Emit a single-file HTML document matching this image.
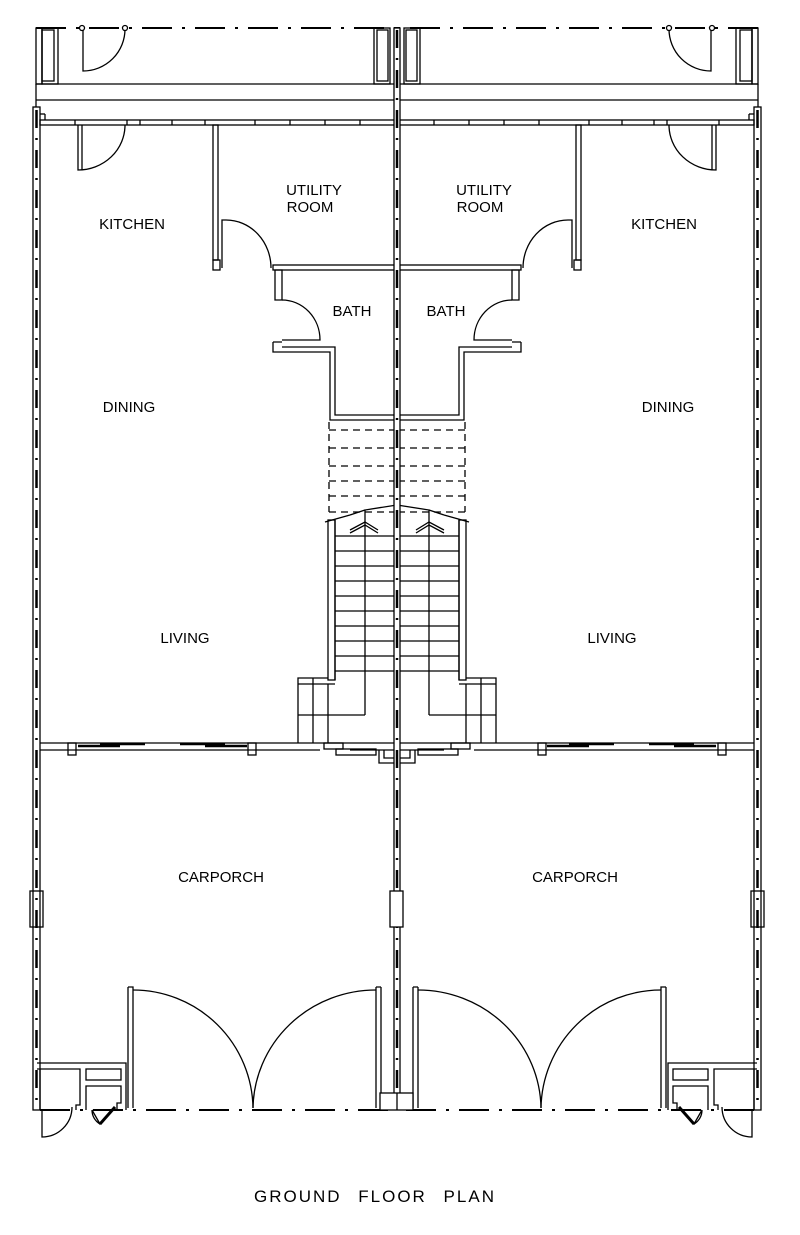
<!DOCTYPE html>
<html><head><meta charset="utf-8"><style>
html,body{margin:0;padding:0;background:#fff;}
svg{display:block}
text{font-family:"Liberation Sans",sans-serif;fill:#000;}
</style></head><body>
<svg width="800" height="1235" viewBox="0 0 800 1235" xmlns="http://www.w3.org/2000/svg">
<defs>
<g id="half" fill="none" stroke="#000" stroke-width="1.3">
  <line x1="36" y1="28" x2="397" y2="28" stroke-width="2" stroke-dasharray="30,10,3,10"/>
  <rect x="36" y="28" width="6" height="56"/>
  <rect x="42" y="28" width="16" height="56"/>
  <rect x="42" y="30" width="12" height="51"/>
  <rect x="374" y="28" width="16" height="56"/>
  <rect x="377" y="30" width="11" height="51"/>
  <line x1="36" y1="84" x2="397" y2="84"/>
  <line x1="36" y1="84" x2="36" y2="107"/>
  <path d="M83 29 V71 A42 42 0 0 0 125 29"/>
  <circle cx="82" cy="28" r="2.5" fill="#fff"/>
  <circle cx="125" cy="28" r="2.5" fill="#fff"/>
  <line x1="36" y1="100" x2="397" y2="100"/>
  <rect x="33" y="107" width="7" height="1003"/>
  <line x1="36.5" y1="110" x2="36.5" y2="1105" stroke-width="2.5" stroke-dasharray="18,10,2,10"/>
  <rect x="40" y="120" width="357" height="5"/>
  <line x1="40" y1="114" x2="45" y2="114"/><line x1="45" y1="114" x2="45" y2="120"/>
  <line x1="75" y1="120" x2="75" y2="125"/><line x1="127" y1="120" x2="127" y2="125"/>
  <line x1="140" y1="120" x2="140" y2="125"/><line x1="172" y1="120" x2="172" y2="125"/>
  <line x1="205" y1="120" x2="205" y2="125"/><line x1="255" y1="120" x2="255" y2="125"/>
  <line x1="290" y1="120" x2="290" y2="125"/><line x1="325" y1="120" x2="325" y2="125"/><line x1="360" y1="120" x2="360" y2="125"/>
  <path d="M78 125 V170 A47 45 0 0 0 125 125"/>
  <line x1="82" y1="125" x2="82" y2="170"/>
  <rect x="213" y="125" width="5" height="135"/>
  <rect x="213" y="260" width="7" height="10"/>
  <path d="M222 268 V220 H226 A45 48 0 0 1 271 268"/>
  <rect x="273" y="265" width="124" height="5"/>
  <path d="M275 270 H282 V300 H275 Z"/>
  <path d="M282 300 A38 40 0 0 1 320 340 H282"/>
  <path d="M273 342 H282 V342 M273 342 V352 H330 V420 H397 M282 347 H335 V415 H397"/>
  <g stroke-dasharray="7,5">
    <line x1="329" y1="430" x2="397" y2="430"/>
    <line x1="329" y1="448" x2="397" y2="448"/>
    <line x1="329" y1="466" x2="397" y2="466"/>
    <line x1="329" y1="481" x2="397" y2="481"/>
    <line x1="329" y1="496" x2="397" y2="496"/>
    <line x1="329" y1="512" x2="397" y2="512"/>
    <line x1="329" y1="422" x2="329" y2="512"/>
  </g>
  <line x1="325" y1="522" x2="350" y2="515"/><line x1="350" y1="515" x2="365" y2="510"/>
  <path d="M365 520 V510 L397 505"/>
  <path d="M350 530 L365 522 L378 530 M350 533 L365 525 L378 533"/>
  <rect x="328" y="520" width="7" height="160"/>
  <line x1="335" y1="520" x2="335" y2="680"/>
  <g>
    <line x1="335" y1="536" x2="397" y2="536"/><line x1="335" y1="551" x2="397" y2="551"/>
    <line x1="335" y1="566" x2="397" y2="566"/><line x1="335" y1="581" x2="397" y2="581"/>
    <line x1="335" y1="596" x2="397" y2="596"/><line x1="335" y1="611" x2="397" y2="611"/>
    <line x1="335" y1="626" x2="397" y2="626"/><line x1="335" y1="641" x2="397" y2="641"/>
    <line x1="335" y1="656" x2="397" y2="656"/><line x1="335" y1="671" x2="397" y2="671"/>
  </g>
  <line x1="365" y1="520" x2="365" y2="715"/>
  <line x1="335" y1="715" x2="365" y2="715"/>
  <path d="M298 743 V678 H328 M298 684 H335 M313 678 V743 M328 684 V743 M298 715 H335"/>
  <path d="M40 743 H397 M40 750 H320 M350 750 H397"/>
  <rect x="68" y="743" width="8" height="12"/>
  <rect x="248" y="743" width="8" height="12"/>
  <line x1="78" y1="746" x2="120" y2="746" stroke-width="2.5"/>
  <line x1="100" y1="744" x2="145" y2="744" stroke-width="2.5"/>
  <line x1="180" y1="744" x2="225" y2="744" stroke-width="2.5"/>
  <line x1="205" y1="746" x2="247" y2="746" stroke-width="2.5"/>
  <rect x="324" y="743" width="19" height="6"/>
  <rect x="336" y="749" width="40" height="6"/>
  <path d="M379 750 V763 H397 M384 750 V758 H397"/>
  <rect x="30" y="891" width="13" height="36"/>
  <path d="M128 987 V1108 M133 990 V1108 M128 987 H133 L133 990"/>
  <path d="M133 990 A120 120 0 0 1 253 1108"/>
  <path d="M376 987 V1108 M381 987 V1108 M376 987 H381"/>
  <path d="M376 990 A123 120 0 0 0 253 1108"/>
  <line x1="40" y1="1110" x2="397" y2="1110" stroke-width="2" stroke-dasharray="30,10,3,10"/>
  <path d="M37 1063 H126 V1110 M37 1069 H40"/>
  <path d="M40 1069 H80 V1105 H76 V1110 M40 1069 V1110"/>
  <rect x="86" y="1069" width="35" height="11"/>
  <path d="M86 1110 V1086 H121 V1103 H117 V1110"/>
  <path d="M42 1110 V1137 A30 30 0 0 0 72 1107"/>
  <path d="M92 1110 L100 1124 L115 1107 M92 1110 A16 16 0 0 0 100 1124" stroke-width="1.3"/>
  <line x1="100" y1="1124" x2="115" y2="1107" stroke-width="3"/>
</g>
</defs>
<use href="#half"/>
<use href="#half" transform="translate(794,0) scale(-1,1)"/>
<rect x="394" y="28" width="6" height="1080" fill="#fff" stroke="#000" stroke-width="1.3"/>
<line x1="397" y1="30" x2="397" y2="1105" stroke="#000" stroke-width="2.5" stroke-dasharray="18,10,2,10"/>
<rect x="380" y="1093" width="33" height="17" fill="#fff" stroke="#000" stroke-width="1.3"/>
<line x1="397" y1="1093" x2="397" y2="1110" stroke="#000" stroke-width="1.3"/>
<rect x="390" y="891" width="13" height="36" fill="#fff" stroke="#000" stroke-width="1.3"/>
<g font-size="15">
<text x="132" y="229" text-anchor="middle">KITCHEN</text>
<text x="664" y="229" text-anchor="middle">KITCHEN</text>
<text x="314" y="195" text-anchor="middle">UTILITY</text>
<text x="310" y="212" text-anchor="middle">ROOM</text>
<text x="484" y="195" text-anchor="middle">UTILITY</text>
<text x="480" y="212" text-anchor="middle">ROOM</text>
<text x="352" y="316" text-anchor="middle">BATH</text>
<text x="446" y="316" text-anchor="middle">BATH</text>
<text x="129" y="412" text-anchor="middle">DINING</text>
<text x="668" y="412" text-anchor="middle">DINING</text>
<text x="185" y="643" text-anchor="middle">LIVING</text>
<text x="612" y="643" text-anchor="middle">LIVING</text>
<text x="221" y="882" text-anchor="middle">CARPORCH</text>
<text x="575" y="882" text-anchor="middle">CARPORCH</text>
</g>
<text x="375" y="1202" text-anchor="middle" font-size="17" letter-spacing="2" word-spacing="10">GROUND FLOOR PLAN</text>
</svg>
</body></html>
